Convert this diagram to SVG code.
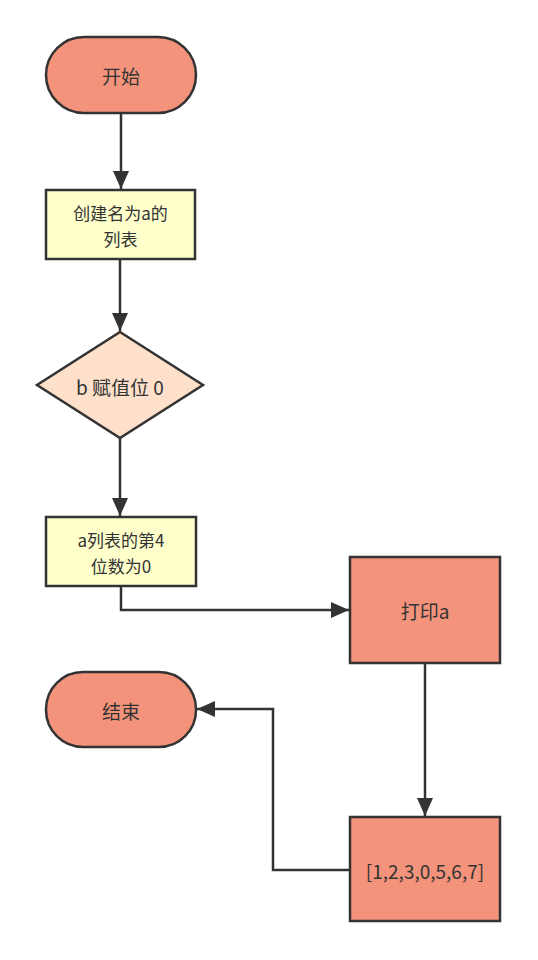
<svg xmlns="http://www.w3.org/2000/svg" width="538" height="960" viewBox="0 0 538 960">
<style>
.s{stroke:#333;stroke-width:2.5}
.r{fill:#F4937B}
.y{fill:#FFFFCC}
.d{fill:#FFE1CB}
text{font-family:"Noto Sans CJK SC","Liberation Sans",sans-serif;font-size:19px;fill:#333;text-anchor:middle;dominant-baseline:central}
text.m{font-size:17px}
.c{fill:none;stroke:#333;stroke-width:2.5}
</style>
<defs>
<marker id="ah" viewBox="0 0 18 16" refX="18" refY="8" markerWidth="18" markerHeight="16" markerUnits="userSpaceOnUse" orient="auto">
<path d="M0,0 L18,8 L0,16 Z" fill="#333"/>
</marker>
</defs>
<g id="connectors">
<path class="c" d="M121,113 V189" marker-end="url(#ah)"/>
<path class="c" d="M120,259 V331" marker-end="url(#ah)"/>
<path class="c" d="M120,438 V516" marker-end="url(#ah)"/>
<path class="c" d="M121,586 V610 H349" marker-end="url(#ah)"/>
<path class="c" d="M425,663 V816" marker-end="url(#ah)"/>
<path class="c" d="M350,870 H273 V709 H197" marker-end="url(#ah)"/>
</g>
<g id="start">
<rect class="s r" x="46" y="37" width="150" height="76" rx="38"/>
<text x="121" y="75">开始</text>
</g>
<g id="create">
<rect class="s y" x="46" y="190" width="149" height="69"/>
<text class="m" x="120.5" y="212">创建名为a的</text>
<text class="m" x="120.5" y="238">列表</text>
</g>
<g id="assign">
<polygon class="s d" points="120,332 203,385 120,438 37,385"/>
<text x="120" y="386">b 赋值位 0</text>
</g>
<g id="set">
<rect class="s y" x="46" y="517" width="150" height="69"/>
<text class="m" x="121" y="539">a列表的第4</text>
<text class="m" x="121" y="565">位数为0</text>
</g>
<g id="print">
<rect class="s r" x="350" y="557" width="150" height="106"/>
<text x="425" y="610">打印a</text>
</g>
<g id="end">
<rect class="s r" x="46" y="672" width="150" height="75" rx="37"/>
<text x="121" y="710">结束</text>
</g>
<g id="result">
<rect class="s r" x="350" y="817" width="150" height="104"/>
<text x="425" y="870">[1,2,3,0,5,6,7]</text>
</g>
</svg>
